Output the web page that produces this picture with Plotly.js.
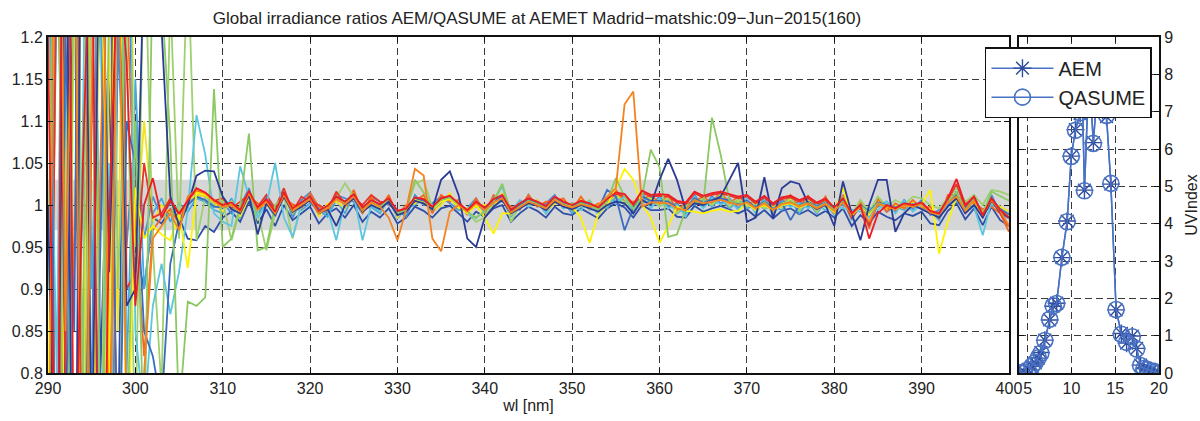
<!DOCTYPE html>
<html>
<head>
<meta charset="utf-8">
<script src="https://cdn.plot.ly/plotly-3.0.1.min.js"></script>
<style>html,body{margin:0;padding:0;background:#fff;}#chart{width:1200px;height:421px;}</style>
</head>
<body>
<div id="chart"></div>
<script>
// ---- wavelength grid (nm) ----
const wl = [290,291,292,293,294,295,296,297,298,299,
300,301,302,303,304,305,306,307,308,309,
310,311,312,313,314,315,316,317,318,319,
320,321,322,323,324,325,326,327,328,329,
330,331,332,333,334,335,336,337,338,339,
340,341,342,343,344,345,346,347,348,349,
350,351,352,353,354,355,356,357,358,359,
360,361,362,363,364,365,366,367,368,369,
370,371,372,373,374,375,376,377,378,379,
380,381,382,383,384,385,386,387,388,389,
390,391,392,393,394,395,396,397,398,399,
400];

// ---- ratio series AEM/QASUME (one per scan) ----
const rDarkBlue1 = [1.000,0.550,1.500,0.350,1.700,0.650,1.450,0.920,1.300,0.880,
0.900,1.300,1.260,1.210,1.010,0.975,1.000,1.035,1.041,1.040,
1.010,0.995,0.990,1.012,0.965,1.002,0.988,1.010,0.992,0.998,
1.006,0.990,0.995,0.975,1.000,1.008,0.992,1.000,0.995,1.004,
0.988,0.992,1.005,1.002,0.995,1.030,1.040,1.012,0.960,0.950,
0.985,0.998,1.006,0.990,0.996,1.002,1.000,0.994,1.004,0.998,
0.995,1.000,0.996,0.992,1.000,1.004,1.002,0.990,1.006,1.000,
1.030,1.055,1.030,0.994,1.002,1.000,1.005,1.010,1.030,1.050,
0.980,0.985,1.033,0.984,1.020,1.028,1.025,1.002,0.995,1.000,
0.975,1.028,0.990,0.958,1.000,1.030,1.030,0.968,0.990,1.000,
0.995,0.990,0.985,0.998,1.008,0.990,1.000,0.985,1.005,0.992,
0.985];
const rDarkBlue2 = [0.400,1.900,0.700,1.350,0.250,1.600,0.800,1.150,0.700,1.400,
0.950,0.900,0.985,0.978,0.995,0.985,0.960,0.958,0.975,0.968,
0.985,0.992,0.980,1.004,0.978,0.995,0.975,1.000,0.982,0.990,
0.998,0.978,0.990,0.996,0.985,1.000,0.980,0.992,0.985,0.996,
0.978,0.985,0.998,0.993,0.985,0.996,0.999,0.990,0.980,0.992,
0.986,0.996,1.000,0.980,0.990,0.998,0.993,0.985,0.998,0.990,
0.988,0.996,0.990,0.984,0.996,1.002,0.997,0.985,1.000,0.994,
0.994,0.996,0.986,0.985,0.999,0.992,0.996,0.999,0.995,0.990,
0.995,0.986,0.994,0.984,0.993,0.996,0.989,0.994,0.987,0.993,
0.985,0.996,0.975,0.988,0.978,0.992,0.986,0.982,0.990,0.987,
0.992,0.978,0.976,0.993,1.002,0.983,0.996,0.976,0.998,0.982,
0.975];
const rBlue1 = [1.800,0.300,1.200,0.850,2.000,0.500,0.950,1.450,0.600,1.100,
1.050,0.850,0.820,0.760,0.930,0.980,1.000,1.010,1.006,0.998,
0.997,1.000,0.992,1.015,0.996,1.005,0.991,1.013,0.995,1.002,
1.010,0.992,0.998,1.010,1.003,1.012,0.996,1.004,0.999,1.007,
0.991,0.995,1.008,1.005,0.997,1.006,1.010,1.000,0.992,1.003,
0.995,1.005,1.010,0.992,1.000,1.006,1.002,0.997,1.008,1.002,
0.998,1.003,1.000,0.995,1.018,1.010,0.970,0.997,1.010,1.005,
1.005,1.004,0.997,0.995,1.008,1.003,1.006,1.008,1.005,1.002,
1.005,0.997,1.004,0.995,1.003,0.982,1.000,1.004,0.998,1.003,
0.995,1.005,0.990,1.000,0.992,1.003,1.000,0.997,1.002,1.000,
1.003,0.992,0.990,1.005,1.012,0.995,1.008,0.990,1.008,0.995,
0.988];
const rBlue2 = [0.600,1.250,1.900,0.450,1.050,0.780,1.650,0.350,1.200,0.950,
1.100,0.960,1.010,0.985,1.003,0.990,1.004,1.012,1.010,1.002,
1.004,0.990,0.998,1.020,0.988,1.010,0.995,1.018,0.985,1.006,
1.015,0.996,0.990,1.012,1.008,1.004,0.990,1.010,1.004,1.000,
0.994,0.986,1.012,1.000,1.002,1.010,1.002,0.994,0.996,1.008,
0.990,1.010,1.004,0.996,0.994,1.012,0.998,1.002,1.012,0.996,
1.002,0.998,1.004,0.990,1.008,1.004,1.012,0.992,1.014,1.000,
1.010,0.998,1.002,0.990,1.012,0.998,1.010,1.002,1.008,0.996,
1.008,0.992,1.008,0.990,1.006,1.000,1.004,0.998,1.002,0.998,
0.998,1.000,0.994,0.995,0.996,0.998,1.004,0.992,1.006,0.995,
1.006,0.988,0.994,1.000,1.016,0.990,1.012,0.985,1.012,0.990,
0.984];
const rSky = [0.450,1.550,1.100,0.300,1.750,0.900,1.250,0.500,1.650,0.800,
1.150,0.900,0.990,1.008,0.980,1.002,0.992,1.008,1.004,0.994,
0.990,1.008,0.984,1.012,0.990,1.002,0.986,1.016,0.996,0.994,
1.002,0.994,0.986,1.006,0.990,1.014,0.996,0.998,0.990,1.008,
0.984,0.996,1.000,1.008,0.992,1.002,1.012,0.994,0.994,0.998,
0.996,1.000,1.008,0.986,1.004,0.998,1.006,0.990,1.004,1.004,
0.990,1.004,0.994,0.998,0.996,1.010,1.000,0.998,1.002,1.006,
0.998,1.006,0.990,0.998,1.000,1.006,0.998,1.008,0.996,1.004,
0.996,1.000,0.996,0.998,0.994,1.006,0.990,1.004,0.990,1.004,
0.988,1.006,0.982,1.002,0.986,1.004,0.992,0.998,0.994,1.002,
0.996,0.994,0.982,1.006,1.004,0.996,1.000,0.992,1.000,0.996,
0.990];
const rCyan = [1.300,0.800,1.700,0.550,1.100,1.900,0.650,1.050,0.300,1.600,
0.850,0.750,0.880,0.930,0.870,0.920,0.995,1.107,1.060,0.990,
0.980,0.975,1.046,1.010,0.985,1.000,1.050,0.985,0.962,1.000,
1.010,0.990,0.995,0.958,1.005,1.012,0.958,1.000,0.992,1.006,
0.988,0.992,1.006,1.004,0.994,1.005,1.008,1.000,0.990,0.984,
0.995,1.005,1.022,0.992,1.006,0.998,1.004,0.990,1.010,0.996,
1.000,0.994,1.004,0.988,1.008,1.002,1.010,0.990,1.012,0.996,
1.008,0.996,1.000,0.986,1.010,0.996,1.008,1.000,1.006,0.994,
1.008,0.990,1.006,0.988,1.004,0.998,1.002,0.996,1.000,0.994,
0.998,0.996,0.994,0.992,0.996,0.994,1.004,0.990,1.005,0.992,
1.001,0.990,0.988,1.003,1.010,0.993,0.998,0.964,1.005,0.993,
0.986];
const rGreen1 = [0.900,1.600,0.300,1.350,0.800,2.100,0.550,1.250,1.800,0.700,
1.100,0.700,1.300,1.250,1.077,0.750,0.885,0.880,0.890,1.138,
0.950,0.960,1.000,1.085,0.946,0.950,1.000,1.010,0.990,1.000,
1.008,0.992,0.996,1.008,1.002,1.010,0.995,1.004,0.998,1.006,
0.990,0.994,1.030,1.015,0.996,1.006,1.009,1.000,0.992,0.985,
0.992,1.004,1.025,0.990,0.998,1.005,1.001,0.996,1.007,1.001,
0.997,1.002,0.999,0.995,1.004,1.032,1.010,0.995,1.010,1.066,
1.045,0.962,0.965,0.995,1.006,1.000,1.104,1.060,1.005,1.003,
1.003,0.996,1.003,0.994,1.002,1.004,0.999,1.003,0.997,1.002,
0.994,1.004,0.989,0.999,0.991,1.002,0.999,0.996,1.001,0.999,
1.002,0.991,0.989,1.004,1.015,0.994,1.007,0.990,1.016,1.010,
1.005];
const rGreen2 = [0.200,1.400,0.900,2.200,0.600,1.300,0.450,1.750,0.900,1.200,
0.700,1.350,0.950,0.780,1.250,0.960,1.300,0.958,1.010,1.000,
1.005,0.958,0.995,1.014,0.992,0.946,0.990,1.012,0.960,1.000,
1.008,0.990,0.996,1.008,1.026,1.010,0.994,1.004,0.998,1.005,
0.990,0.995,1.025,1.030,0.996,1.005,1.008,0.999,0.991,0.980,
0.985,1.005,1.025,0.980,0.999,1.005,1.001,0.996,1.008,1.001,
1.002,0.998,1.006,0.990,1.010,1.010,1.004,1.002,1.004,1.010,
0.998,1.008,0.990,1.000,1.002,1.008,1.000,1.014,0.998,1.007,
0.998,1.004,0.996,1.000,0.998,1.010,0.993,1.009,0.992,1.008,
0.992,1.010,0.990,1.006,0.992,1.010,0.998,1.006,1.000,1.010,
1.008,1.000,0.996,1.008,1.020,1.004,1.012,1.000,1.018,1.016,
1.012];
const rYellow1 = [0.700,1.600,0.400,1.250,1.900,0.550,1.400,0.800,1.550,0.650,
1.020,0.960,0.975,0.965,0.958,0.990,0.925,1.015,1.012,1.003,
0.998,1.000,0.993,1.014,0.995,1.004,0.990,1.012,0.994,1.000,
1.007,0.991,0.997,1.007,1.001,1.009,0.994,1.003,0.997,1.005,
0.989,0.993,1.006,1.003,0.995,1.004,1.007,0.998,0.990,1.000,
0.985,0.966,0.990,0.990,0.998,1.004,1.000,0.995,1.006,1.000,
0.998,0.985,0.955,0.990,1.000,1.020,1.043,1.030,1.000,0.985,
0.955,0.975,0.998,0.993,0.992,0.990,0.993,0.995,0.992,0.993,
1.002,0.994,1.001,0.993,1.000,1.002,0.997,1.001,0.995,1.000,
0.992,1.020,0.988,0.998,0.990,1.001,0.998,0.995,1.000,0.998,
1.001,1.018,0.942,0.980,1.010,0.993,1.006,0.988,1.006,0.993,
0.986];
const rYellow2 = [1.500,0.300,1.000,1.700,0.750,1.350,0.300,1.200,0.850,1.700,
0.950,1.100,0.980,1.000,0.990,0.985,1.005,1.012,1.010,1.002,
0.992,1.004,0.986,1.010,0.998,1.000,0.994,1.008,0.998,0.996,
1.012,0.986,1.002,1.004,0.996,1.016,0.990,1.008,0.994,1.010,
0.985,0.998,1.002,1.008,0.992,1.000,1.014,0.996,0.996,0.998,
1.000,0.998,1.014,0.988,1.004,1.000,1.006,0.992,1.002,1.006,
0.994,1.006,0.995,0.998,1.000,1.014,1.002,1.000,1.004,1.008,
0.999,1.008,0.992,0.999,1.002,1.008,1.000,1.012,0.999,1.005,
0.999,1.002,0.998,0.999,0.997,1.008,0.994,1.007,0.992,1.006,
0.990,1.008,0.986,1.004,0.988,1.006,0.995,1.000,0.996,1.004,
0.998,0.996,0.986,1.008,1.006,0.998,1.002,0.994,1.002,0.998,
0.992];
const rOrange1 = [0.500,1.750,0.850,1.450,0.350,1.150,1.800,0.600,1.350,0.750,
0.780,0.800,0.960,0.975,0.990,0.970,1.010,1.018,1.014,1.004,
0.998,1.000,0.992,1.014,0.994,1.004,0.990,1.012,0.993,1.000,
1.007,0.990,0.996,1.007,1.001,1.010,0.993,1.003,0.998,0.985,
0.958,0.995,1.043,1.035,0.960,0.945,0.992,1.000,0.992,1.002,
0.994,1.003,1.008,0.991,0.998,1.004,1.000,0.996,1.006,1.000,
0.997,1.001,0.998,1.000,1.010,1.020,1.120,1.135,0.998,1.003,
1.003,1.002,0.996,0.994,1.006,1.002,1.004,1.006,1.003,1.000,
1.003,0.996,1.002,0.994,1.001,1.003,0.998,1.002,0.996,1.001,
0.993,1.003,0.989,0.998,0.980,1.001,0.998,0.995,1.000,0.998,
1.001,0.991,0.989,1.003,1.010,0.993,1.006,0.989,1.006,0.993,
0.975];
const rOrange2 = [1.650,0.450,1.300,0.900,1.600,0.250,1.050,1.450,0.550,1.250,
0.980,0.820,0.970,0.985,0.995,0.978,1.008,1.016,1.012,1.003,
1.004,0.996,0.998,1.010,1.002,1.000,0.997,1.008,1.001,0.996,
1.014,0.998,0.992,1.014,0.998,1.018,0.990,1.010,0.996,1.012,
0.988,1.000,1.004,1.012,0.990,1.012,1.004,1.006,0.988,1.008,
0.990,1.012,1.006,0.998,0.995,1.012,0.998,1.004,1.004,1.008,
0.994,1.010,0.996,1.002,1.000,1.018,1.004,1.004,1.006,1.012,
1.002,1.012,0.994,1.002,1.004,1.010,1.002,1.016,1.002,1.010,
1.002,1.004,1.000,1.002,0.999,1.012,0.997,1.011,0.995,1.010,
0.990,1.012,0.984,1.006,0.972,1.008,0.992,1.002,0.996,1.006,
0.996,0.998,0.984,1.012,1.012,1.002,1.003,0.995,0.998,0.990,
0.968];
const rRed1 = [1.200,0.500,1.900,0.600,1.050,1.400,0.350,0.980,1.300,1.170,
0.880,1.000,1.032,0.985,1.005,0.990,1.005,1.020,1.015,1.006,
1.000,1.003,0.994,1.017,0.997,1.007,0.992,1.015,0.996,1.003,
1.010,0.993,0.999,1.010,1.004,1.013,0.997,1.006,1.001,1.008,
0.993,0.996,1.009,1.007,0.998,1.008,1.011,1.002,0.994,1.004,
0.997,1.007,1.012,0.994,1.002,1.008,1.004,0.999,1.010,1.004,
1.000,1.005,1.002,0.997,1.007,1.015,1.013,1.001,1.017,1.012,
1.013,1.012,1.005,1.003,1.016,1.011,1.014,1.016,1.013,1.010,
1.012,1.004,1.011,1.002,1.009,1.011,1.006,1.010,1.003,1.008,
0.997,1.008,0.990,1.000,0.960,0.990,1.000,0.996,1.002,1.000,
1.003,0.993,0.990,1.008,1.031,1.000,1.010,0.988,1.008,0.994,
0.985];
const rRed2 = [0.300,1.350,0.800,1.700,0.450,1.100,1.600,0.700,1.900,0.900,
0.920,1.050,0.985,0.990,1.008,0.988,1.006,1.018,1.014,1.005,
1.008,0.996,1.004,1.012,0.998,1.012,0.996,1.020,0.992,1.010,
1.004,1.000,0.994,1.016,1.000,1.008,1.000,1.012,1.004,1.002,
0.992,0.995,1.008,1.006,0.997,1.007,1.010,1.001,0.993,1.003,
0.996,1.006,1.011,0.993,1.001,1.007,1.003,0.998,1.009,1.003,
0.999,1.004,1.001,0.996,1.006,1.013,1.011,1.000,1.015,1.010,
1.011,1.010,1.003,1.001,1.014,1.009,1.012,1.014,1.011,1.008,
1.010,1.002,1.009,1.000,1.007,1.009,1.004,1.008,1.001,1.006,
0.995,1.006,0.985,0.998,0.975,1.002,0.997,0.994,1.000,0.998,
1.001,0.991,0.988,1.006,1.025,0.997,1.008,0.986,1.006,0.990,
0.975];

// ---- UV index during the day ----
const uvHours = [4.1,4.6,5.05,5.5,5.85,6.2,6.5,6.95,7.5,7.9,8.3,8.9,9.5,9.97,10.45,10.99,11.2,11.48,12.0,12.5,13.0,13.55,14.0,14.5,15.1,15.7,16.3,16.95,17.45,17.9,18.3,18.7,19.1,19.55,19.95];
const uvAEM = [0.0,0.02,0.1,0.18,0.27,0.4,0.55,0.88,1.42,1.79,1.87,3.09,4.07,5.81,6.52,6.95,7.9,4.9,8.1,6.17,7.8,7.04,6.87,5.06,1.69,1.06,0.8,0.99,0.66,0.21,0.13,0.1,0.06,0.04,0.0];
const uvQASUME = [0.0,0.02,0.09,0.19,0.28,0.41,0.53,0.87,1.44,1.8,1.86,3.1,4.05,5.8,6.5,6.97,7.95,4.88,8.12,6.15,7.82,7.06,6.9,5.08,1.7,1.04,0.82,0.97,0.64,0.2,0.12,0.09,0.05,0.03,0.0];

const ratioSeries = [
  {y: rDarkBlue2, c: '#2f4ea6'},
  {y: rBlue2, c: '#4a8ed0'},
  {y: rSky, c: '#47a8dc'},
  {y: rYellow2, c: '#f5e11c'},
  {y: rOrange2, c: '#f26a22'},
  {y: rGreen2, c: '#9fd06e'},
  {y: rRed2, c: '#e8352a'},
  {y: rCyan, c: '#5cc6e0'},
  {y: rBlue1, c: '#3a6cc0'},
  {y: rYellow1, c: '#fff200'},
  {y: rGreen1, c: '#8cc963'},
  {y: rDarkBlue1, c: '#2b3b95'},
  {y: rOrange1, c: '#f58220'},
  {y: rRed1, c: '#ed1c24'}
];
ratioSeries.forEach((s, i) => { if (s.y.length !== wl.length) throw new Error('series ' + i + ' has ' + s.y.length); });

const FONT = 'Liberation Sans, Arial, Helvetica, sans-serif';
const traces = ratioSeries.map(s => ({
  x: wl, y: s.y, type: 'scatter', mode: 'lines',
  line: {color: s.c, width: 1.8}, showlegend: false, hoverinfo: 'skip',
  xaxis: 'x', yaxis: 'y'
}));

traces.push({
  x: uvHours, y: uvAEM, name: 'AEM', type: 'scatter', mode: 'lines+markers',
  line: {color: '#4a72c4', width: 1.5},
  marker: {symbol: 'asterisk-open', size: 15, color: '#2f4c9e', line: {color: '#2f4c9e', width: 1.4}},
  xaxis: 'x2', yaxis: 'y2'
});
traces.push({
  x: uvHours, y: uvQASUME, name: 'QASUME', type: 'scatter', mode: 'lines+markers',
  line: {color: '#4a72c4', width: 1.5},
  marker: {symbol: 'circle-open', size: 16, color: '#4a72c4', line: {color: '#4a72c4', width: 1.6}},
  xaxis: 'x2', yaxis: 'y2'
});

const gridCommon = {
  showgrid: true, gridcolor: '#3a3a3a', gridwidth: 1, griddash: '7px,4px',
  zeroline: false, showline: true, linecolor: '#111', linewidth: 2,
  mirror: 'ticks', ticks: 'inside', ticklen: 5, tickcolor: '#111', tickwidth: 1,
  tickfont: {family: FONT, size: 16, color: '#222'}, automargin: false
};

const layout = {
  width: 1200, height: 421,
  margin: {l: 0, r: 0, t: 0, b: 0},
  paper_bgcolor: '#fff', plot_bgcolor: '#fff',
  font: {family: FONT, color: '#222'},
  title: {text: 'Global irradiance ratios AEM/QASUME at AEMET Madrid\u2212matshic:09\u2212Jun\u22122015(160)',
          x: 0.4475, xanchor: 'center', y: 0.958, yanchor: 'middle', xref: 'paper', yref: 'paper',
          font: {family: FONT, size: 17, color: '#222'}},
  xaxis: Object.assign({}, gridCommon, {
    domain: [0.04, 0.8408], range: [290, 400], dtick: 10, tick0: 290, anchor: 'y',
    title: {text: 'wl [nm]', font: {family: FONT, size: 16, color: '#222'}, standoff: 4}
  }),
  yaxis: Object.assign({}, gridCommon, {
    domain: [0.114, 0.9121], range: [0.8, 1.2], dtick: 0.05, tick0: 0.8, anchor: 'x'
  }),
  xaxis2: Object.assign({}, gridCommon, {
    domain: [0.8492, 0.9658], range: [4, 20], tickvals: [5, 10, 15, 20], anchor: 'y2'
  }),
  yaxis2: Object.assign({}, gridCommon, {
    domain: [0.114, 0.9121], range: [0, 9], dtick: 1, anchor: 'x2', side: 'right',
    title: {text: 'UVIndex', font: {family: FONT, size: 16, color: '#222'}, standoff: 14}
  }),
  shapes: [{type: 'rect', xref: 'x', yref: 'y', x0: 290, x1: 400, y0: 0.97, y1: 1.03,
            fillcolor: '#d5d6d8', line: {width: 0}, layer: 'below'}],
  legend: {x: 0.8208, y: 0.888, xanchor: 'left', yanchor: 'top',
           bgcolor: '#fff', bordercolor: '#111', borderwidth: 1.5,
           font: {family: FONT, size: 20, color: '#222'}, itemwidth: 62, tracegroupgap: 0},
  showlegend: true
};

Plotly.newPlot('chart', traces, layout, {displayModeBar: false, staticPlot: true});
</script>
</body>
</html>
